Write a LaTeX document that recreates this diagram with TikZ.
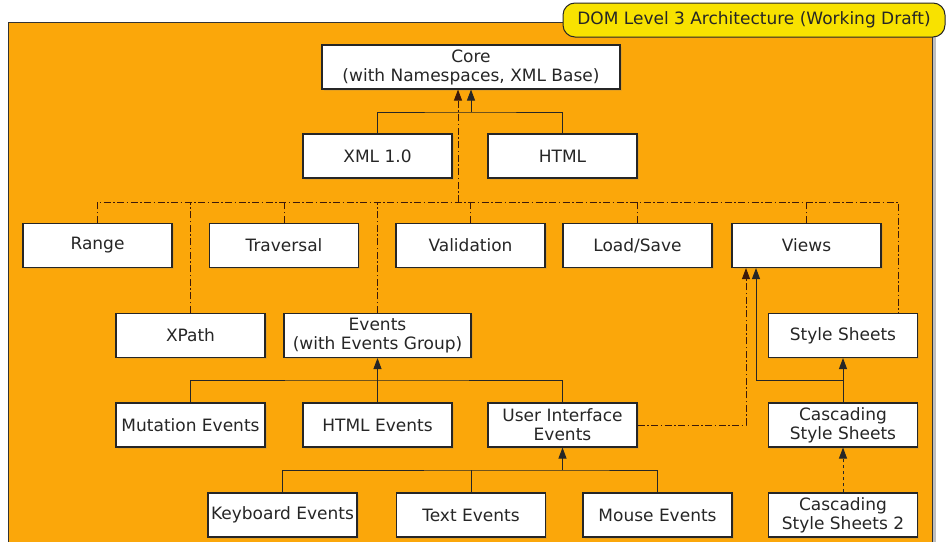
\documentclass[tikz,border=0pt]{standalone}
\usepackage{fontspec}
\setmainfont{DejaVu Sans}
\usetikzlibrary{arrows.meta,shadows}

\definecolor{domorange}{RGB}{251,167,10}
\definecolor{tabyellow}{RGB}{248,226,0}
\definecolor{linkbrown}{RGB}{60,25,10}

\tikzset{
  module/.style={draw=black!85, line width=1.1pt, fill=white,
    minimum width=149pt, minimum height=44pt, inner sep=0pt, align=center,
    font=\fontsize{17}{19}\selectfont, text=black!85,
    drop shadow={shadow xshift=1.5pt, shadow yshift=-1.5pt, opacity=0.18}},
  uses/.style={draw=black!85, line width=1pt},
  depends/.style={draw=linkbrown, line width=0.9pt,
    dash pattern=on 7pt off 2.5pt on 1.5pt off 2.5pt},
  tip/.style={-{Triangle[length=11pt,width=8pt]}},
}

\begin{document}
\begin{tikzpicture}[x=1pt,y=-1pt]
\useasboundingbox (0,0) rectangle (948,541);

% Draw the frame and its title tab
\fill[black!25] (12,26) rectangle (936,560);
\draw[black!80, line width=1pt, fill=domorange] (8,22) rectangle (932,560);
\node[draw=black!85, line width=1pt, fill=tabyellow, rounded corners=12pt,
  minimum width=382pt, minimum height=34pt, inner sep=0pt,
  font=\fontsize{17}{19}\selectfont, text=black!85] (title) at (754,20)
  {DOM Level 3 Architecture (Working Draft)};

% Define the modules
\node[module, minimum width=298pt] (core) at (471,67)
  {Core\\(with Namespaces, XML Base)};
\node[module] (xml) at (377.5,156) {XML 1.0};
\node[module] (html) at (562.5,156) {HTML};

\node[module] (range) at (97.5,245.5) {Range};
\node[module] (trav) at (284,245.5) {Traversal};
\node[module] (valid) at (470.5,245.5) {Validation};
\node[module] (loadsave) at (637.5,245.5) {Load/Save};
\node[module] (views) at (806.5,245.5) {Views};

\node[module] (xpath) at (190.5,335.5) {XPath};
\node[module, minimum width=187pt] (events) at (377.5,335.5)
  {Events\\(with Events Group)};
\node[module] (stylesheets) at (843,335.5) {Style Sheets};

\node[module] (mutation) at (190.5,425) {Mutation Events};
\node[module] (htmlev) at (377.5,425) {HTML Events};
\node[module] (uiev) at (562.5,425) {User Interface\\Events};
\node[module] (css) at (843,425) {Cascading\\Style Sheets};

\node[module] (keyb) at (282.5,515) {Keyboard Events};
\node[module] (textev) at (471,515) {Text Events};
\node[module] (mouse) at (657.5,515) {Mouse Events};
\node[module] (css2) at (843,515) {Cascading\\Style Sheets 2};

% Core and its two markups
\coordinate (coreJoin) at (471,112);
\draw[uses] (xml.north) |- (coreJoin) -| (html.north);
\draw[uses,tip] (coreJoin) -- (coreJoin |- core.south);

% The modules that depend on Core
\coordinate (busR) at (898,202);
\coordinate (coreDep) at (458,202);
\draw[depends] (range.north) |- (busR) -- (busR |- stylesheets.north);
\foreach \n in {trav,valid,loadsave,views,xpath,events} {
  \draw[depends] (\n.north) -- (\n.north |- busR);
}
\draw[depends,tip] (coreDep) -- (coreDep |- core.south);

% Events
\coordinate (evJoin) at (377.5,380);
\draw[uses] (mutation.north) |- (evJoin) -| (uiev.north);
\draw[uses,tip] (htmlev.north) -- (events.south);

\coordinate (uiJoin) at (562.5,470);
\draw[uses] (keyb.north) |- (uiJoin) -| (mouse.north);
\draw[uses] (textev.north) -- (textev.north |- uiJoin);
\draw[uses,tip] (uiJoin) -- (uiev.south);

% Views and style sheets
\coordinate (cssJoin) at (843,380);
\coordinate (viewsIn) at (756,0);
\coordinate (viewsDep) at (746,0);
\draw[uses,tip] (css.north) -- (stylesheets.south);
\draw[uses,tip] (cssJoin) -| (viewsIn |- views.south);
\draw[depends,tip] (uiev.east) -| (viewsDep |- views.south);
\draw[uses,dashed,tip] (css2.north) -- (css.south);

\end{tikzpicture}
\end{document}
